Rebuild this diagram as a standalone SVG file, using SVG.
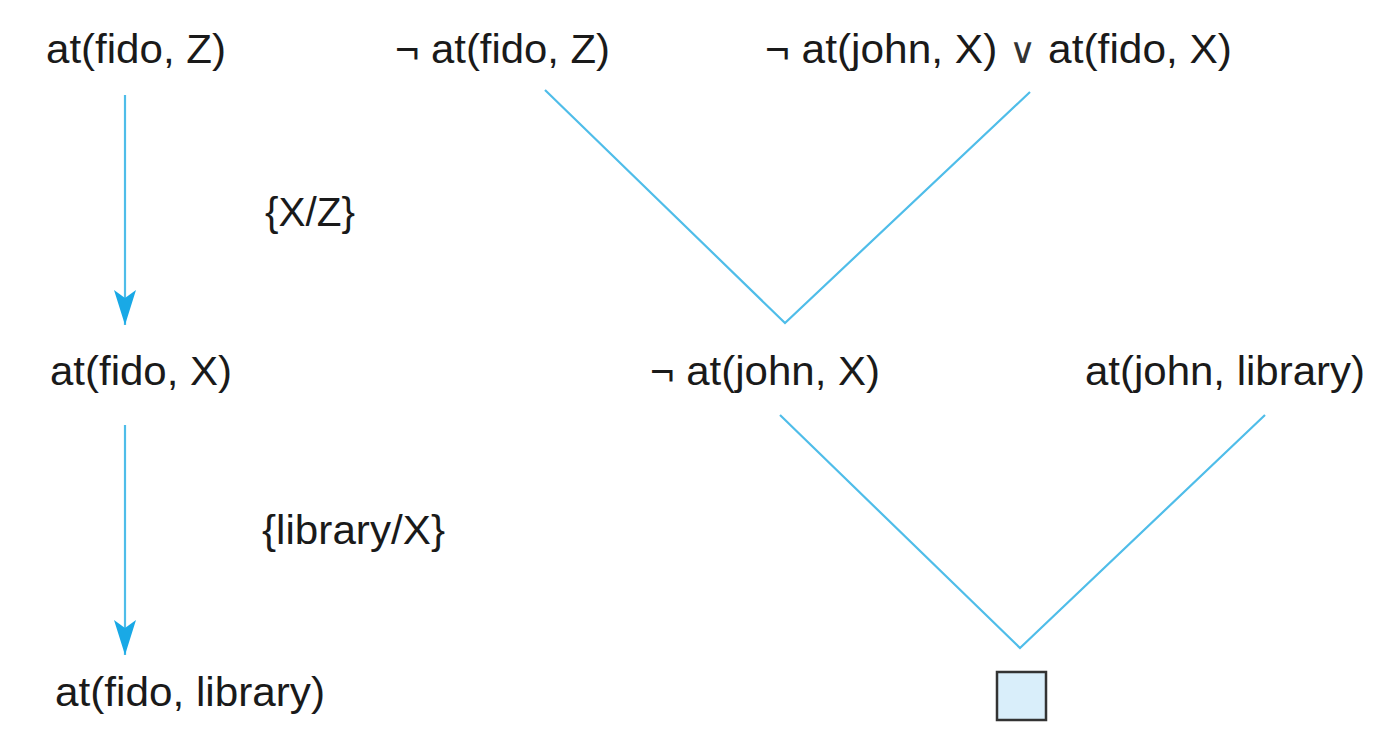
<svg xmlns="http://www.w3.org/2000/svg" width="1373" height="735" viewBox="0 0 1373 735">
<defs>
<style>
text{font-family:"Liberation Sans",Arial,sans-serif;font-size:41px;fill:#1a1a1a}
.c{stroke:#4fbde9;stroke-width:2.2;fill:none}
.or{font-family:"DejaVu Sans",sans-serif;font-size:36px;fill:#333333}
</style>
<marker id="ah" viewBox="0 0 36 22" refX="35" refY="11" markerWidth="36" markerHeight="22" markerUnits="userSpaceOnUse" orient="auto">
<path d="M0,0 L8,11 L0,22 L35,11 Z" fill="#19a9e6"/>
</marker>
</defs>
<rect width="1373" height="735" fill="#ffffff"/>
<g id="connectors">
<line class="c" x1="125" y1="95" x2="125" y2="325" marker-end="url(#ah)"/>
<line class="c" x1="125" y1="425" x2="125" y2="655" marker-end="url(#ah)"/>
<polyline class="c" points="545,90 785,323 1030,92"/>
<polyline class="c" points="780,415 1020,648 1265,415"/>
</g>
<g id="n1"><text x="46" y="63" textLength="180" lengthAdjust="spacingAndGlyphs">at(fido, Z)</text></g>
<g id="n2"><text x="395" y="63" textLength="215" lengthAdjust="spacingAndGlyphs">¬ at(fido, Z)</text></g>
<g id="n3"><text x="765" y="63" textLength="467" lengthAdjust="spacingAndGlyphs">¬ at(john, X) <tspan class="or">∨</tspan> at(fido, X)</text></g>
<g id="l1"><text x="265" y="226" textLength="90" lengthAdjust="spacingAndGlyphs">{X/Z}</text></g>
<g id="n4"><text x="50" y="385" textLength="182" lengthAdjust="spacingAndGlyphs">at(fido, X)</text></g>
<g id="n5"><text x="650" y="385" textLength="230" lengthAdjust="spacingAndGlyphs">¬ at(john, X)</text></g>
<g id="n6"><text x="1085" y="385" textLength="280" lengthAdjust="spacingAndGlyphs">at(john, library)</text></g>
<g id="l2"><text x="262" y="544" textLength="183" lengthAdjust="spacingAndGlyphs">{library/X}</text></g>
<g id="n7"><text x="55" y="706" textLength="270" lengthAdjust="spacingAndGlyphs">at(fido, library)</text></g>
<g id="n8"><rect x="997" y="672" width="49" height="48" fill="#d9eefa" stroke="#333333" stroke-width="2.5"/></g>
</svg>
